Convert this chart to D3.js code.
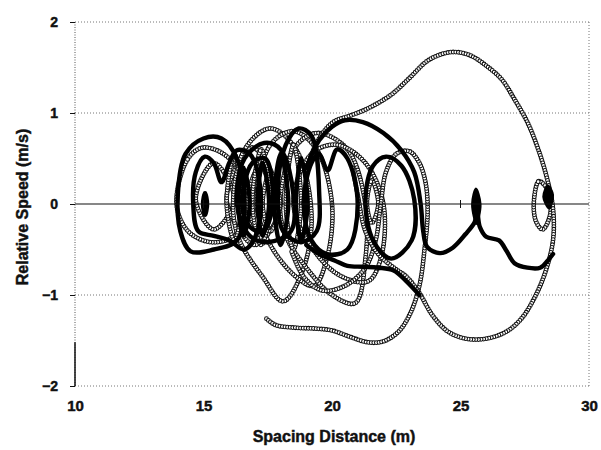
<!DOCTYPE html>
<html><head><meta charset="utf-8">
<script src="https://cdn.jsdelivr.net/npm/d3@7"></script>
<style>body{margin:0;background:#fff}svg{display:block}text{font-family:"Liberation Sans",Arial,sans-serif;font-weight:bold;fill:#111;stroke:#111;stroke-width:0.45px}</style>
</head><body>
<svg id="c" width="601" height="450"></svg>
<script>
// ---- data ----
const xTicks = [10, 15, 20, 25, 30];
const yTicks = [-2, -1, 0, 1, 2];
const xTitle = "Spacing Distance (m)";
const yTitle = "Relative Speed (m/s)";

// open-circle trajectory pieces
const hollowOpen = [
  [[17.45,-1.26],[17.8,-1.33],[18.6,-1.36],[19.4,-1.37],[20.0,-1.39],[20.7,-1.46],[21.4,-1.52],[22.0,-1.51],[22.6,-1.4],[23.05,-1.2],[23.4,-0.9],[23.6,-0.5],[23.72,-0.1],[23.65,0.22],[23.4,0.45],[23.0,0.58],[22.5,0.55],[22.1,0.35],[21.9,0.0],[21.7,-0.4],[21.3,-0.7],[20.5,-0.9],[19.6,-0.95],[18.9,-0.8],[18.4,-0.5]],
  [[18.9,0.0],[19.1,0.45],[19.5,0.72],[20.05,0.9],[20.8,0.98],[21.4,1.05],[22.3,1.2],[23.0,1.38],[23.7,1.57],[24.3,1.65],[24.8,1.67],[25.4,1.63],[26.0,1.52],[26.6,1.37],[27.1,1.15],[27.6,0.9],[28.0,0.62],[28.35,0.3],[28.6,-0.05],[28.6,-0.4],[28.3,-0.75],[27.9,-1.02],[27.4,-1.25],[26.8,-1.4],[26.0,-1.48],[25.2,-1.48],[24.5,-1.4],[23.9,-1.22],[23.4,-0.98],[22.9,-0.8],[22.4,-0.7],[21.8,-0.55],[21.3,-0.3],[21.0,0.1],[20.8,0.4]]
];
const hollowLoops = [
  [[13.95,0.0],[14.4,0.5],[15.0,0.62],[16.0,0.5],[16.8,0.0],[16.2,-0.35],[15.3,-0.42],[14.4,-0.3]],
  [[14.7,0.05],[15.4,0.45],[16.2,0.05],[15.4,-0.28]],
  [[15.9,0.05],[16.9,0.62],[18.0,0.0],[17.0,-0.45]],
  [[16.15,0.0],[16.6,0.6],[17.6,0.83],[18.6,0.6],[19.2,-0.1],[18.9,-0.7],[18.1,-1.07],[17.3,-0.8],[16.4,-0.4]],
  [[16.7,0.0],[17.2,0.42],[17.7,0.0],[17.2,-0.3]],
  [[17.07,0.0],[17.6,0.65],[18.5,0.8],[19.4,0.6],[20.0,0.0],[19.8,-0.6],[19.3,-0.9],[18.6,-0.8],[17.6,-0.45]],
  [[17.98,0.0],[18.5,0.6],[19.4,0.78],[20.6,0.6],[21.3,0.0],[21.3,-0.6],[20.9,-1.09],[20.0,-1.0],[19.0,-0.7],[18.2,-0.35]],
  [[18.5,0.0],[19.2,0.55],[20.2,0.65],[21.3,0.45],[22.0,0.0],[21.9,-0.6],[21.4,-0.85],[20.4,-0.8],[19.4,-0.55]],
  [[21.36,0.0],[21.55,0.26],[21.8,0.0],[21.55,-0.21]],
  [[17.3,0.0],[17.6,0.35],[17.98,0.0],[17.6,-0.3]],
  [[15.9,0.0],[16.2,0.55],[16.5,0.0],[16.2,-0.4]],
  [[16.9,0.0],[17.25,0.6],[17.6,0.0],[17.25,-0.45]],
  [[18.2,0.0],[18.5,0.65],[18.8,0.0],[18.5,-0.5]],
  [[27.85,0.0],[28.05,0.25],[28.4,0.15],[28.5,-0.1],[28.2,-0.28],[27.95,-0.2]]
];

// filled-marker trajectory pieces
const solidOpen = [
  [[19.0,0.4],[19.5,0.7],[20.0,0.85],[20.5,0.92],[21.2,0.9],[22.0,0.78],[22.7,0.59],[23.2,0.35],[23.45,0.0],[23.55,-0.3],[23.7,-0.47],[24.2,-0.54],[24.7,-0.48],[25.2,-0.33],[25.55,-0.2],[25.65,-0.1],[25.75,-0.25],[26.0,-0.36],[26.5,-0.4],[26.8,-0.52],[27.1,-0.65],[27.6,-0.7],[28.1,-0.7],[28.4,-0.62],[28.6,-0.55]],
  [[19.0,-0.45],[19.5,-0.55],[20.1,-0.62],[20.6,-0.68],[21.2,-0.69],[21.8,-0.7],[22.4,-0.73],[22.9,-0.85],[23.4,-1.0]]
];
const solidLoops = [
  [[14.0,0.1],[14.3,0.55],[15.0,0.72],[15.7,0.72],[16.3,0.5],[16.6,0.0],[16.3,-0.4],[15.4,-0.5],[14.5,-0.52],[14.1,-0.3]],
  [[14.6,0.0],[14.7,0.35],[15.05,0.52],[15.4,0.45],[15.7,0.24],[16.0,0.45],[16.3,0.59],[16.8,0.55],[17.2,0.2],[17.1,-0.3],[16.6,-0.5],[16.0,-0.4],[15.4,-0.35],[14.8,-0.3]],
  [[14.98,0.0],[15.06,0.12],[15.14,0.0],[15.06,-0.12]],
  [[16.3,0.0],[16.6,0.5],[17.36,0.67],[18.0,0.6],[18.5,0.1],[18.4,-0.3],[17.5,-0.42],[16.8,-0.35]],
  [[16.5,0.0],[16.9,0.45],[17.4,0.5],[17.7,0.0],[17.3,-0.3],[16.8,-0.25]],
  [[17.9,0.2],[18.2,0.65],[18.7,0.83],[19.2,0.75],[19.5,0.13],[19.4,-0.3],[18.8,-0.42],[18.1,-0.3]],
  [[18.9,0.0],[19.2,0.45],[19.5,0.55],[19.83,0.37],[20.2,0.6],[20.6,0.5],[21.0,0.0],[20.6,-0.5],[19.8,-0.55],[19.2,-0.4]],
  [[21.3,0.05],[21.6,0.42],[22.1,0.52],[22.7,0.42],[23.2,0.05],[23.1,-0.4],[22.3,-0.6],[21.6,-0.4]],
  [[16.35,0.0],[16.55,0.4],[16.8,0.0],[16.55,-0.35]],
  [[17.1,0.0],[17.3,0.45],[17.55,0.0],[17.3,-0.35]],
  [[17.75,0.0],[18.0,0.55],[18.3,0.0],[18.0,-0.45]],
  [[18.6,0.0],[18.8,0.5],[19.05,0.0],[18.8,-0.4]]
];
const solidBlobs = [
  [[25.45,0.0],[25.6,0.17],[25.78,0.0],[25.62,-0.22]],
  [[28.22,0.08],[28.4,0.2],[28.6,0.1],[28.45,-0.05]]
];

// ---- drawing ----
const svg = d3.select("#c");
const x = d3.scaleLinear().domain([10, 30]).range([75, 589]);
const y = d3.scaleLinear().domain([-2, 2]).range([386, 22]);

const grid = svg.append("g");
[1, -1, 2, -2].forEach(v => grid.append("line")
  .attr("x1", x(10)).attr("x2", x(30)).attr("y1", y(v)).attr("y2", y(v))
  .attr("stroke", "#777").attr("stroke-width", 1).attr("stroke-dasharray", "1,2"));
grid.append("line").attr("x1", x(30)).attr("x2", x(30)).attr("y1", y(2)).attr("y2", y(-2))
  .attr("stroke", "#777").attr("stroke-dasharray", "1,2");
grid.append("line").attr("x1", x(10)).attr("x2", x(10)).attr("y1", y(2)).attr("y2", y(-2))
  .attr("stroke", "#555").attr("stroke-dasharray", "1,1.5");
grid.append("line").attr("x1", x(10)).attr("x2", x(10)).attr("y1", y(-1.52)).attr("y2", y(-2))
  .attr("stroke", "#111").attr("stroke-width", 1.5);

const yAxis = d3.axisLeft(y).tickValues(yTicks).tickSize(5).tickFormat(d3.format("d"));
const ga = svg.append("g").attr("transform", `translate(${x(10)},0)`).call(yAxis);
ga.select(".domain").remove();
ga.selectAll("line").attr("stroke", "#111");
ga.selectAll("text").attr("x", -17).style("font-size", "14px").style("font-weight", "bold")
  .style("font-family", '"Liberation Sans",Arial,sans-serif').attr("fill", "#111");

const xAxis = d3.axisBottom(x).tickValues(xTicks).tickSize(0).tickFormat(d3.format("d"));
const gx = svg.append("g").attr("transform", `translate(0,${y(-2)})`).call(xAxis);
gx.select(".domain").remove();
gx.selectAll("text").attr("y", 25).attr("dy", 0).style("font-size", "15px").style("font-weight", "bold")
  .style("font-family", '"Liberation Sans",Arial,sans-serif').attr("fill", "#111");

const lineOpen = d3.line().x(d => x(d[0])).y(d => y(d[1])).curve(d3.curveCatmullRom.alpha(0.5));
const lineClosed = d3.line().x(d => x(d[0])).y(d => y(d[1])).curve(d3.curveCatmullRomClosed.alpha(0.5));

const marks = svg.append("g");

function hollow(dstr) {
  const p = marks.append("path").attr("d", dstr).attr("fill", "none").attr("stroke", "none");
  const L = p.node().getTotalLength();
  const g = marks.append("g");
  for (let s = 0; s <= L; s += 2.6) {
    const pt = p.node().getPointAtLength(s);
    g.append("circle").attr("cx", pt.x).attr("cy", pt.y).attr("r", 1.9)
      .attr("fill", "#fff").attr("stroke", "#111").attr("stroke-width", 1.05);
  }
  p.remove();
}
function solid(dstr) {
  marks.append("path").attr("d", dstr).attr("fill", "none").attr("stroke", "#000")
    .attr("stroke-width", 4.4).attr("stroke-linejoin", "round").attr("stroke-linecap", "round");
}

hollowLoops.forEach(l => hollow(lineClosed(l)));
hollowOpen.forEach(l => hollow(lineOpen(l)));
solidLoops.forEach(l => solid(lineClosed(l)));
solidOpen.forEach(l => solid(lineOpen(l)));
solidBlobs.forEach(l => marks.append("path").attr("d", lineClosed(l)).attr("fill", "#000")
  .attr("stroke", "#000").attr("stroke-width", 2));

marks.append("line").attr("x1", x(10)).attr("x2", x(30)).attr("y1", y(0)).attr("y2", y(0))
  .attr("stroke", "#111").attr("stroke-width", 1.2);
[15, 20, 25].forEach(v => marks.append("line").attr("x1", x(v)).attr("x2", x(v))
  .attr("y1", y(0) - 4).attr("y2", y(0) + 4).attr("stroke", "#111"));

svg.append("text").attr("x", 334).attr("y", 442).attr("text-anchor", "middle")
  .style("font-size", "16px").text(xTitle);
svg.append("text").attr("transform", "translate(28,207) rotate(-90)").attr("text-anchor", "middle")
  .style("font-size", "16px").text(yTitle);
</script>
</body></html>
